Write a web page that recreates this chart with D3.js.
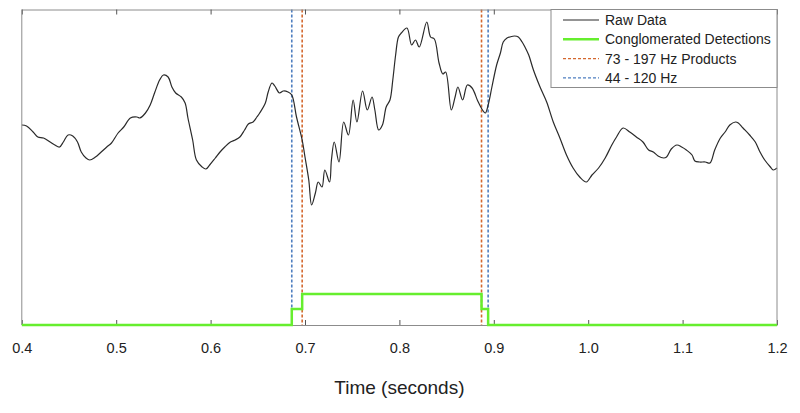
<!DOCTYPE html>
<html>
<head>
<meta charset="utf-8">
<script src="https://cdn.jsdelivr.net/npm/d3@7"></script>
<style>
  body { margin: 0; background: #fff; }
  svg { display: block; font-family: "Liberation Sans", Arial, Helvetica, sans-serif; }
</style>
</head>
<body>
<svg id="chart" width="800" height="413"></svg>
<script>
// raw trace (time in s, amplitude in arbitrary units)
const rawTime = [0.400, 0.405, 0.412, 0.417, 0.423, 0.430, 0.435, 0.440, 0.444, 0.449,
  0.454, 0.459, 0.463, 0.468, 0.472, 0.478, 0.483, 0.490, 0.495, 0.502,
  0.508, 0.515, 0.522, 0.525, 0.531, 0.536, 0.541, 0.546, 0.550, 0.555,
  0.559, 0.563, 0.569, 0.573, 0.576, 0.581, 0.585, 0.591, 0.595, 0.599,
  0.605, 0.610, 0.615, 0.621, 0.626, 0.631, 0.636, 0.640, 0.645, 0.649,
  0.652, 0.658, 0.661, 0.665, 0.668, 0.673, 0.677, 0.682, 0.686, 0.691,
  0.697, 0.700, 0.704, 0.707, 0.711, 0.714, 0.718, 0.721, 0.726, 0.728,
  0.731, 0.736, 0.741, 0.746, 0.751, 0.755, 0.761, 0.766, 0.771, 0.774,
  0.778, 0.782, 0.786, 0.790, 0.793, 0.796, 0.799, 0.802, 0.808, 0.813,
  0.817, 0.821, 0.829, 0.833, 0.837, 0.842, 0.846, 0.849, 0.855, 0.859,
  0.862, 0.867, 0.872, 0.877, 0.883, 0.888, 0.891, 0.894, 0.898, 0.903,
  0.907, 0.910, 0.914, 0.917, 0.922, 0.926, 0.930, 0.933, 0.937, 0.942,
  0.949, 0.956, 0.963, 0.970, 0.977, 0.984, 0.991, 0.998, 1.004, 1.011,
  1.018, 1.025, 1.030, 1.037, 1.044, 1.051, 1.058, 1.064, 1.069, 1.074,
  1.080, 1.083, 1.088, 1.094, 1.099, 1.104, 1.110, 1.113, 1.118, 1.124,
  1.129, 1.134, 1.140, 1.145, 1.150, 1.156, 1.159, 1.164, 1.171, 1.177,
  1.182, 1.187, 1.193, 1.196, 1.200];
const rawValue = [2.00, 1.99, 1.93, 1.88, 1.87, 1.83, 1.80, 1.78, 1.83, 1.90,
  1.89, 1.83, 1.73, 1.67, 1.65, 1.68, 1.72, 1.78, 1.82, 1.92,
  1.98, 2.07, 2.08, 2.07, 2.12, 2.20, 2.33, 2.45, 2.50, 2.48,
  2.38, 2.32, 2.28, 2.22, 2.07, 1.85, 1.65, 1.58, 1.56, 1.60,
  1.67, 1.73, 1.78, 1.83, 1.85, 1.88, 1.95, 2.01, 2.03, 2.08,
  2.12, 2.22, 2.33, 2.42, 2.39, 2.32, 2.34, 2.33, 2.30, 2.08,
  1.85, 1.68, 1.45, 1.20, 1.32, 1.43, 1.38, 1.55, 1.43, 1.65,
  1.83, 1.63, 2.03, 1.90, 2.25, 2.03, 2.34, 2.15, 2.28, 2.15,
  1.95, 2.00, 2.18, 2.25, 2.45, 2.70, 2.88, 2.92, 2.97, 2.80,
  2.85, 2.78, 3.03, 2.88, 2.86, 2.62, 2.51, 2.53, 2.15, 2.28,
  2.38, 2.25, 2.40, 2.37, 2.24, 2.15, 2.12, 2.20, 2.38, 2.60,
  2.72, 2.83, 2.87, 2.88, 2.89, 2.88, 2.83, 2.78, 2.70, 2.55,
  2.38, 2.23, 2.03, 1.87, 1.70, 1.57, 1.48, 1.43, 1.50, 1.57,
  1.67, 1.80, 1.88, 1.97, 1.93, 1.88, 1.83, 1.75, 1.73, 1.69,
  1.67, 1.68, 1.76, 1.80, 1.78, 1.75, 1.70, 1.64, 1.63, 1.63,
  1.62, 1.75, 1.87, 1.93, 2.00, 2.03, 2.02, 1.97, 1.90, 1.83,
  1.73, 1.65, 1.58, 1.55, 1.57];

// conglomerated detections (step trace)
const detTime = [0.400, 0.686, 0.686, 0.697, 0.697, 0.887, 0.887, 0.894, 0.894, 1.200];
const detValue = [0, 0, 0.16, 0.16, 0.31, 0.31, 0.16, 0.16, 0, 0];

// detection boundaries
const bandA = [0.697, 0.887]; // 73 - 197 Hz Products
const bandB = [0.686, 0.894]; // 44 - 120 Hz

const xTicks = [0.4, 0.5, 0.6, 0.7, 0.8, 0.9, 1.0, 1.1, 1.2];
const legendLabels = ["Raw Data", "Conglomerated Detections", "73 - 197 Hz Products", "44 - 120 Hz"];

const COL_RAW = "#2a2a2a";
const COL_DET = "#66ee2e";
const COL_A = "#d4682e";
const COL_B = "#4f7fc0";
const COL_AX = "#8c8c8c";

const svg = d3.select("#chart");
const margin = { top: 9.5, right: 23, bottom: 88, left: 21.8 };
const W = 800 - margin.left - margin.right;
const H = 413 - margin.top - margin.bottom;

const x = d3.scaleLinear().domain([0.4, 1.2]).range([0, W]);
const y = d3.scaleLinear().domain([0, 3.155]).range([H, 0]);

const g = svg.append("g").attr("transform", `translate(${margin.left},${margin.top})`);

// dashed band lines
const vlines = [
  ...bandB.map(t => ({ t, c: COL_B })),
  ...bandA.map(t => ({ t, c: COL_A }))
];
g.selectAll("line.band")
  .data(vlines)
  .enter().append("line")
  .attr("class", "band")
  .attr("x1", d => x(d.t)).attr("x2", d => x(d.t))
  .attr("y1", 0).attr("y2", H)
  .attr("stroke", d => d.c)
  .attr("stroke-width", 1.6)
  .attr("stroke-dasharray", "3,2");

// raw trace
const rawPts = rawTime.map((t, i) => [t, rawValue[i]]);
g.append("path")
  .datum(rawPts)
  .attr("fill", "none")
  .attr("stroke", COL_RAW)
  .attr("stroke-width", 1.2)
  .attr("stroke-linejoin", "round")
  .attr("d", d3.line().x(d => x(d[0])).y(d => y(d[1])).curve(d3.curveCatmullRom.alpha(0.5)));

// axes box
const xAxis = d3.axisBottom(x).tickValues(xTicks).tickFormat(d3.format(".1f"))
  .tickSizeInner(-5).tickSizeOuter(0).tickPadding(18);
const gx = g.append("g").attr("transform", `translate(0,${H})`).call(xAxis);
gx.select(".domain").attr("stroke", COL_AX);
gx.selectAll(".tick line").attr("stroke", "#555");
gx.selectAll(".tick text").attr("fill", "#222").style("font-size", "14.5px");

const gxt = g.append("g").call(d3.axisTop(x).tickValues(xTicks).tickFormat("").tickSizeInner(-5).tickSizeOuter(0));
gxt.select(".domain").attr("stroke", COL_AX);
gxt.selectAll(".tick line").attr("stroke", "#555");

g.append("line").attr("x1", 0).attr("x2", 0).attr("y1", 0).attr("y2", H).attr("stroke", COL_AX);
g.append("line").attr("x1", W).attr("x2", W).attr("y1", 0).attr("y2", H).attr("stroke", COL_AX);

// detection step trace
const detPts = detTime.map((t, i) => [t, detValue[i]]);
g.append("path")
  .datum(detPts)
  .attr("fill", "none")
  .attr("stroke", COL_DET)
  .attr("stroke-width", 2.5)
  .attr("d", d3.line().x(d => x(d[0])).y(d => y(d[1])));

// x label
svg.append("text")
  .attr("x", margin.left + W / 2)
  .attr("y", 394)
  .attr("text-anchor", "middle")
  .attr("fill", "#222")
  .style("font-size", "19px")
  .text("Time (seconds)");

// legend
const legW = 226, legH = 78;
const leg = g.append("g").attr("transform", `translate(${W - legW},0)`);
leg.append("rect")
  .attr("width", legW).attr("height", legH)
  .attr("fill", "#fff").attr("stroke", COL_AX);

const legStyles = [
  { c: COL_RAW, w: 1.2, dash: null },
  { c: COL_DET, w: 2.5, dash: null },
  { c: COL_A, w: 1.2, dash: "3,2" },
  { c: COL_B, w: 1.2, dash: "3,2" }
];
const rows = leg.selectAll("g.row")
  .data(legendLabels)
  .enter().append("g")
  .attr("class", "row")
  .attr("transform", (d, i) => `translate(0,${10.5 + i * 19.3})`);
rows.append("line")
  .attr("x1", 12).attr("x2", 48)
  .attr("stroke", (d, i) => legStyles[i].c)
  .attr("stroke-width", (d, i) => legStyles[i].w)
  .attr("stroke-dasharray", (d, i) => legStyles[i].dash);
rows.append("text")
  .attr("x", 54).attr("dy", "0.36em")
  .attr("fill", "#222")
  .style("font-size", "14px")
  .text(d => d);
</script>
</body>
</html>
